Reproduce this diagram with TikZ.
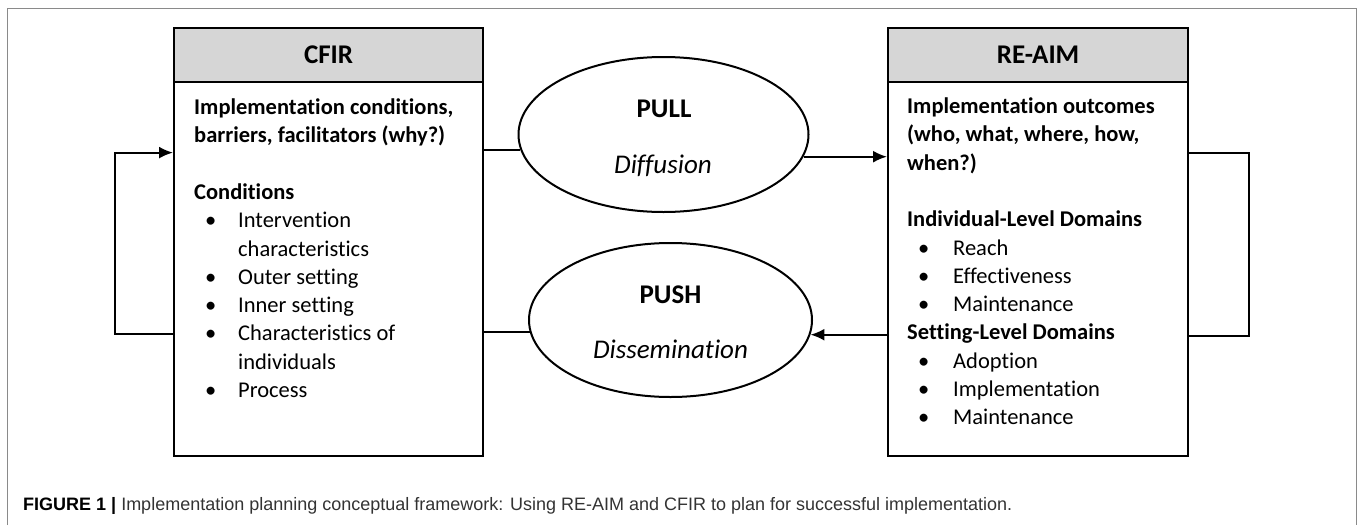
\documentclass[tikz,border=0pt]{standalone}
\usepackage{fontspec}
\setmainfont{Carlito}[Ligatures=NoCommon]
\newfontfamily\capfont{Liberation Sans}
\usetikzlibrary{shapes.geometric,arrows.meta}
\definecolor{headgray}{HTML}{D6D6D6}
\definecolor{framegray}{HTML}{8A8A8A}
\definecolor{captxt}{HTML}{333333}
\newcommand{\tl}[4]{\node[txt] (#1) at (#2,#3) {#4};}
\newcommand{\bul}[2]{\makebox[#1][l]{\hspace{11pt}\textbullet}#2}
\begin{document}
\begin{tikzpicture}[x=1pt,y=-1pt,
  box/.style={draw,line width=2.2pt,inner sep=0pt,anchor=north west},
  headbox/.style={box,fill=headgray,font=\bfseries\fontsize{27}{32}\selectfont},
  ell/.style={draw,ellipse,line width=2pt,inner sep=0pt},
  txt/.style={anchor=base west,inner sep=0pt,font=\fontsize{22.5}{27}\selectfont},
  big/.style={anchor=base,inner sep=0pt,font=\fontsize{27}{32}\selectfont},
  conn/.style={line width=2pt},
  arr/.style={conn,-{Latex[length=14pt,width=12pt]}}]
\useasboundingbox (0,0) rectangle (1357,525);
% outer frame
\draw[framegray,line width=1pt] (7,525) -- (7,8) -- (1356,8) -- (1356,525);

% CFIR box
\node[headbox,minimum width=309pt,minimum height=54pt] (cfirhead) at (173,27) {CFIR};
\node[box,minimum width=309pt,minimum height=374pt] (cfirbody) at (173,81) {};
% RE-AIM box
\node[headbox,minimum width=300pt,minimum height=54pt] (reaimhead) at (887,27) {RE-AIM};
\node[box,minimum width=300pt,minimum height=374pt] (reaimbody) at (887,81) {};

% CFIR text
\tl{c0}{194}{114.5}{\bfseries Implementation conditions,}
\tl{c1}{194}{142.8}{\bfseries barriers, facilitators (why?)}
\tl{c3}{194}{199.4}{\bfseries Conditions}
\tl{c4}{194}{227.7}{\bul{44pt}{Intervention}}
\tl{c5}{238}{256.0}{characteristics}
\tl{c6}{194}{284.3}{\bul{44pt}{Outer setting}}
\tl{c7}{194}{312.6}{\bul{44pt}{Inner setting}}
\tl{c8}{194}{340.9}{\bul{44pt}{Characteristics of}}
\tl{c9}{238}{369.2}{individuals}
\tl{c10}{194}{397.5}{\bul{44pt}{Process}}

% RE-AIM text
\tl{r0}{907}{113.5}{\bfseries Implementation outcomes}
\tl{r1}{907}{141.8}{\bfseries (who, what, where, how,}
\tl{r2}{907}{170.1}{\bfseries when?)}
\tl{r4}{907}{226.7}{\bfseries Individual-Level Domains}
\tl{r5}{907}{255.0}{\bul{46pt}{Reach}}
\tl{r6}{907}{283.3}{\bul{46pt}{Effectiveness}}
\tl{r7}{907}{311.6}{\bul{46pt}{Maintenance}}
\tl{r8}{907}{339.9}{\bfseries Setting-Level Domains}
\tl{r9}{907}{368.2}{\bul{46pt}{Adoption}}
\tl{r10}{907}{396.5}{\bul{46pt}{Implementation}}
\tl{r11}{907}{424.8}{\bul{46pt}{Maintenance}}

% ellipses
\node[ell,minimum width=290pt,minimum height=155pt] (pull) at (663.5,134.5) {};
\node[ell,minimum width=283pt,minimum height=154pt] (push) at (670.5,320) {};
\node[big] (pulllbl) at (664,117.7) {\bfseries PULL};
\node[big] (difflbl) at (663,173.7) {\itshape Diffusion};
\node[big] (pushlbl) at (670.5,303.7) {\bfseries PUSH};
\node[big] (disslbl) at (670.5,358.7) {\itshape Dissemination};

% connectors
\draw[conn] (cfirbody.east |- pull.186) -- (pull.186);
\draw[arr] (pull.351.5) -- (reaimbody.west |- pull.351.5);
\draw[arr] (reaimbody.west |- push.354.7) -- (push.354.7);
\draw[conn] (push.185) -- (cfirbody.east |- push.185);
% feedback loops
\draw[arr] ([yshift=-64.5pt]cfirbody.west) -- ++(-58,0) |- ([yshift=116.5pt]cfirbody.west);
\draw[conn] ([yshift=116.5pt]reaimbody.east) -- ++(60,0) |- ([yshift=-66.5pt]reaimbody.east);

% caption
\node[anchor=base west,inner sep=0pt,font=\capfont\fontsize{18}{21}\selectfont,text=captxt] (caption) at (23,510)
  {\textcolor{black}{\bfseries FIGURE 1 |} Implementation planning conceptual framework: Using RE-AIM and CFIR to plan for successful implementation.};
\end{tikzpicture}
\end{document}
